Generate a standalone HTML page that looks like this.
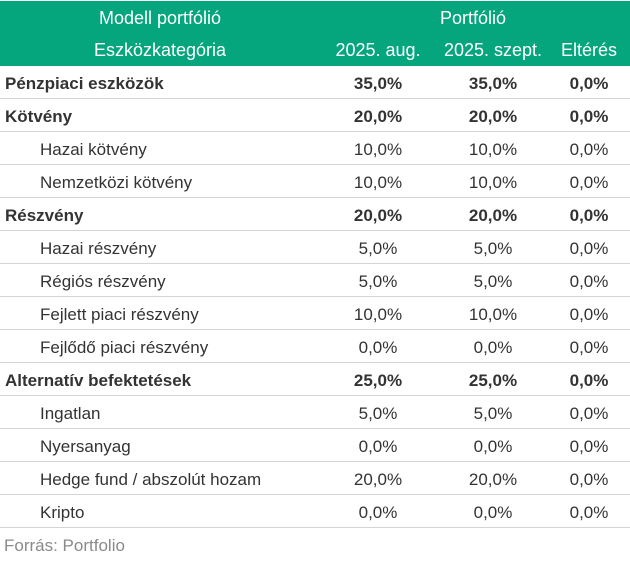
<!DOCTYPE html>
<html><head><meta charset="utf-8"><style>
body{margin:0;width:630px;height:562px;background:#fff;font-family:"Liberation Sans",sans-serif;position:relative;overflow:hidden}
.hdr{position:absolute;left:0;top:1px;width:630px;height:65px;background:#05a57e}
.t{position:absolute;white-space:nowrap;font-size:17px;color:#333}
.w{color:#fff;font-size:18px}
.c{transform:translateX(-50%)}
.b{font-weight:bold}
.line{position:absolute;left:0;width:630px;height:1px;background:#d4d4d4}
</style></head><body>
<div class="hdr"></div>
<div class="t w c" style="left:160px;top:8px">Modell portfólió</div>
<div class="t w c" style="left:473px;top:8px">Portfólió</div>
<div class="t w c" style="left:160px;top:40px">Eszközkategória</div>
<div class="t w c" style="left:378px;top:40px">2025. aug.</div>
<div class="t w c" style="left:493px;top:40px">2025. szept.</div>
<div class="t w c" style="left:589px;top:40px">Eltérés</div>
<div id="rows"></div>
<script>
var r=[["Pénzpiaci eszközök","35,0%","35,0%",1],["Kötvény","20,0%","20,0%",1],["Hazai kötvény","10,0%","10,0%",0],["Nemzetközi kötvény","10,0%","10,0%",0],["Részvény","20,0%","20,0%",1],["Hazai részvény","5,0%","5,0%",0],["Régiós részvény","5,0%","5,0%",0],["Fejlett piaci részvény","10,0%","10,0%",0],["Fejlődő piaci részvény","0,0%","0,0%",0],["Alternatív befektetések","25,0%","25,0%",1],["Ingatlan","5,0%","5,0%",0],["Nyersanyag","0,0%","0,0%",0],["Hedge fund / abszolút hozam","20,0%","20,0%",0],["Kripto","0,0%","0,0%",0]];
var h="";
r.forEach(function(x,i){var y=66+i*33;var b=x[3]?" b":"";
h+='<div class="t'+b+'" style="left:'+(x[3]?5:40)+'px;top:'+(y+8)+'px">'+x[0]+'</div>';
h+='<div class="t c'+b+'" style="left:378px;top:'+(y+8)+'px">'+x[1]+'</div>';
h+='<div class="t c'+b+'" style="left:493px;top:'+(y+8)+'px">'+x[2]+'</div>';
h+='<div class="t c'+b+'" style="left:589px;top:'+(y+8)+'px">0,0%</div>';
h+='<div class="line" style="top:'+(y+32)+'px"></div>';});
h+='<div class="t" style="left:4px;top:536px;color:#8a8a8a">Forrás: Portfolio</div>';
document.getElementById("rows").innerHTML=h;
</script>
</body></html>
